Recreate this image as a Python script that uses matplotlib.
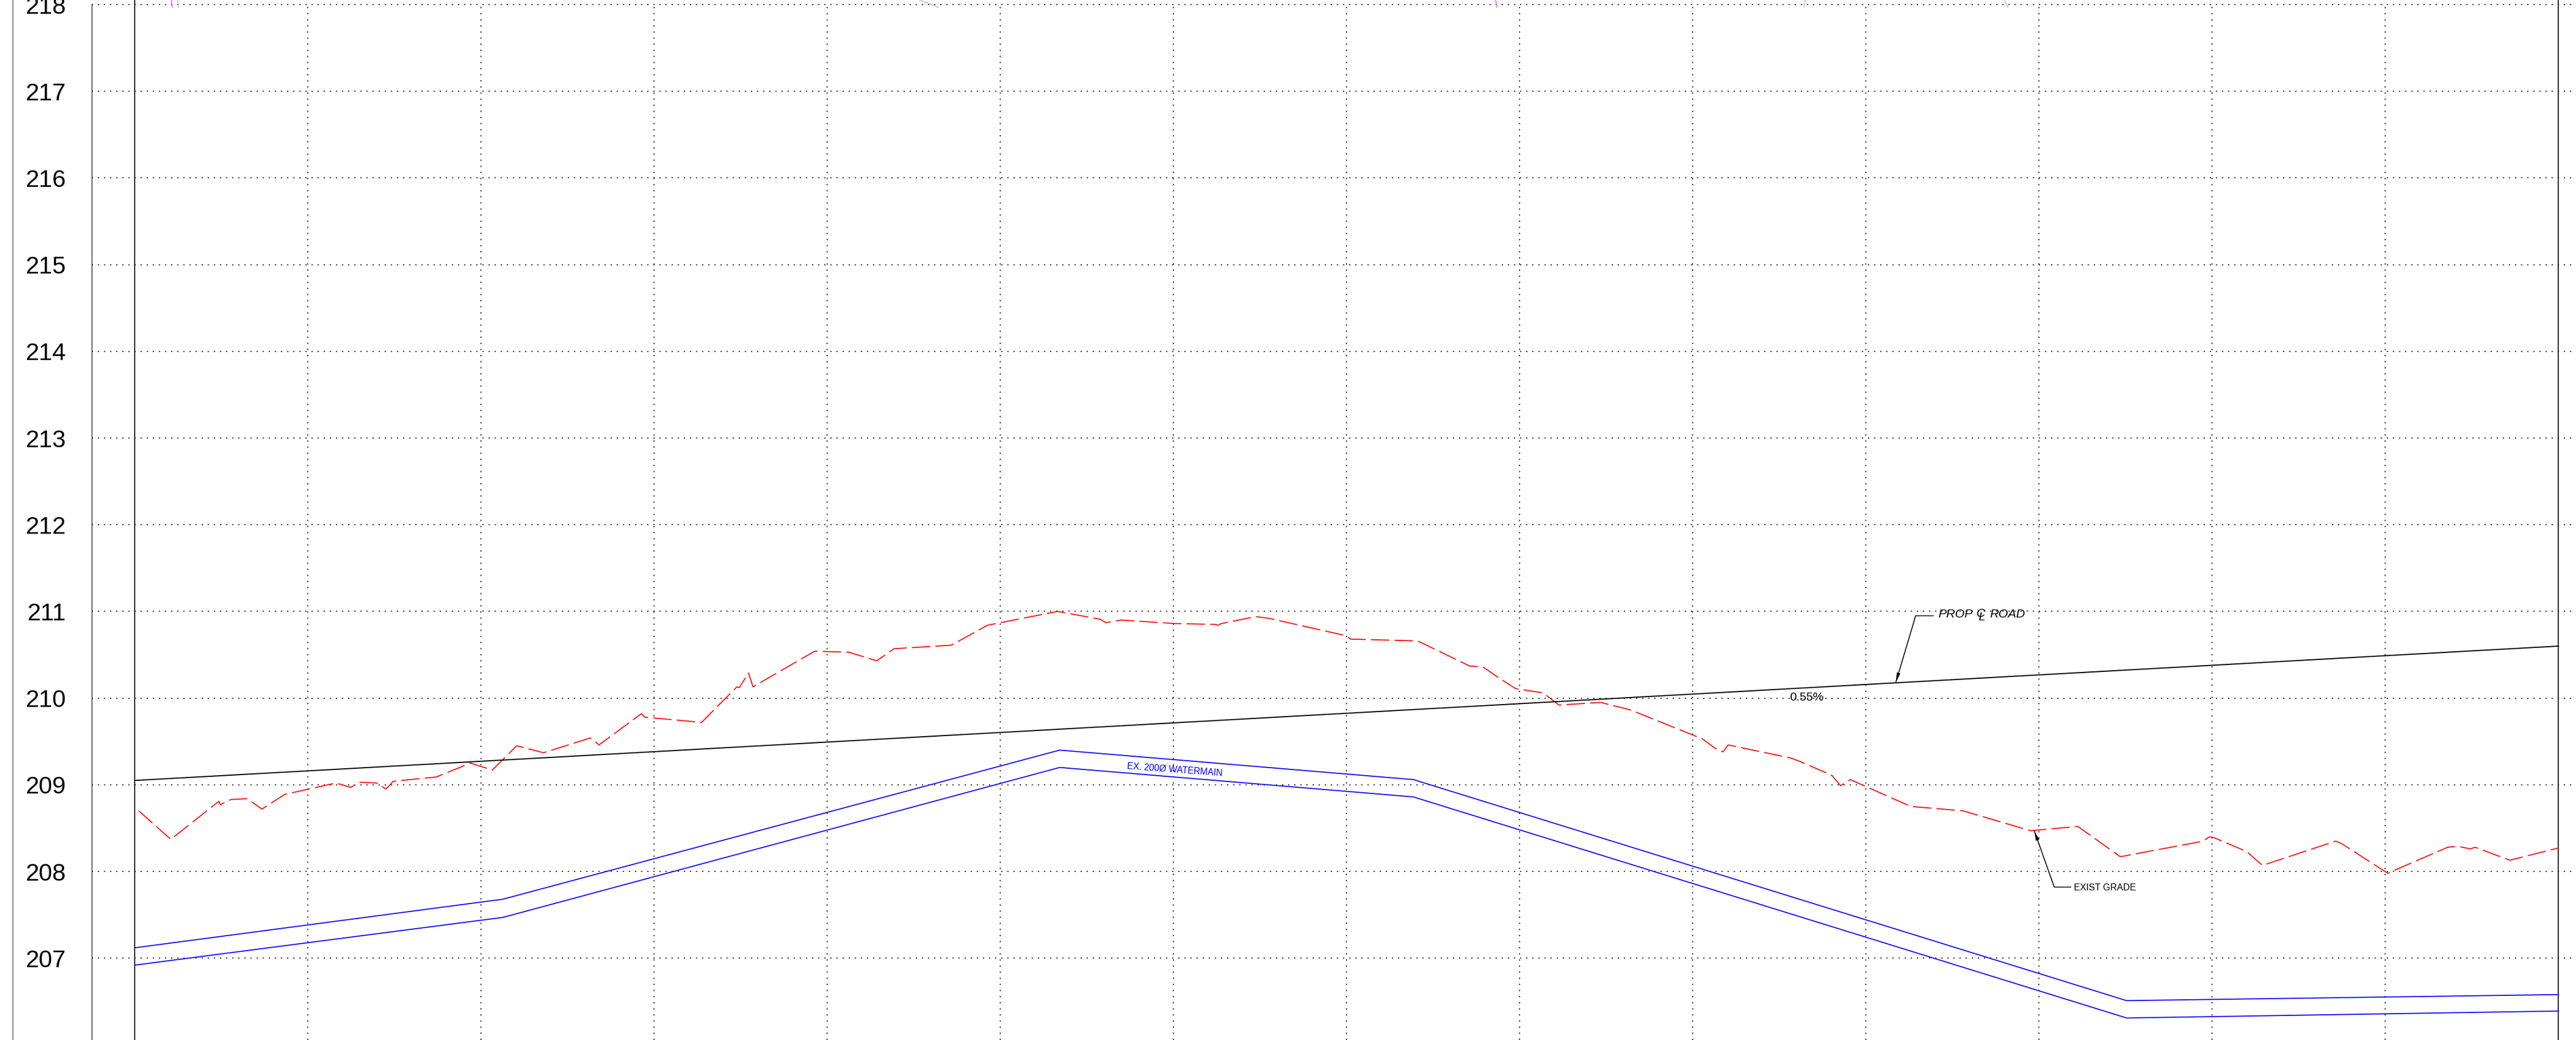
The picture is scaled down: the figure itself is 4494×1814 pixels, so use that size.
import matplotlib
matplotlib.use("Agg")
import matplotlib.pyplot as plt

# profile grid
elevations = [207, 208, 209, 210, 211, 212, 213, 214, 215, 216, 217, 218]
stations = [20, 40, 60, 80, 100, 120, 140, 160, 180, 200, 220, 240, 260]

# existing grade
grade_x = [0.43, 4.14, 9.70, 9.86, 11.09, 12.95, 14.67, 17.32, 23.21, 24.96, 25.86, 27.98, 29.0, 29.83,
           34.8, 38.77, 41.29, 44.1, 47.21, 52.62, 53.61, 58.51, 58.9, 65.46, 69.54, 69.81, 70.89, 71.4,
           78.51, 82.45, 85.7, 87.7, 94.3, 98.48, 106.6, 111.49, 112.19, 113.94, 120.2, 124.8, 125.13,
           125.53, 129.48, 131.03, 139.9, 140.46, 148.15, 148.81, 154.2, 155.73, 157.32, 159.5, 162.68,
           164.52, 169.31, 171.76, 172.88, 181.09, 182.58, 183.48, 184.07, 191.26, 192.35, 196.04, 196.46,
           197.05, 198.18, 205.18, 211.19, 219.01, 224.47, 229.37, 238.95, 239.66, 240.21, 243.98, 245.79,
           254.26, 254.97, 260.27, 267.21, 268.44, 269.83, 270.36, 274.37, 279.95]
grade_y = [208.70, 208.37, 208.81, 208.77, 208.83, 208.84, 208.72, 208.89, 209.02, 208.97, 209.03, 209.02, 208.95, 209.04,
           209.09, 209.25, 209.17, 209.45, 209.37, 209.54, 209.46, 209.82, 209.78, 209.72, 210.13, 210.12, 210.29, 210.13,
           210.54, 210.53, 210.43, 210.57, 210.61, 210.84, 211.00, 210.91, 210.87, 210.90, 210.86, 210.85, 210.84,
           210.86, 210.94, 210.92, 210.72, 210.68, 210.66, 210.63, 210.37, 210.36, 210.25, 210.11, 210.06,
           209.92, 209.95, 209.89, 209.86, 209.53, 209.42, 209.38, 209.46, 209.31, 209.27, 209.11, 209.06,
           208.99, 209.06, 208.75, 208.70, 208.47, 208.52, 208.17, 208.35, 208.40, 208.39, 208.23, 208.07,
           208.35, 208.32, 207.98, 208.28, 208.29, 208.26, 208.28, 208.13, 208.27]

# proposed road centreline
road_x = [0, 280]
road_y = [209.05, 210.60]

# 200 watermain
main_x = [0, 42.5, 106.84, 147.7, 230.1, 280]
main_top = [207.12, 207.68, 209.40, 209.06, 206.51, 206.58]
main_bottom = [206.92, 207.47, 209.20, 208.86, 206.31, 206.39]

# leaders
road_leader_x = [203.43, 205.73, 207.78]
road_leader_y = [210.18, 210.95, 210.95]
grade_leader_x = [219.43, 221.74, 223.65]
grade_leader_y = [208.47, 207.82, 207.82]

# bits of other drawing poking in over the top line
top_bits_x = [(4.2, 4.3), (4.93, 5.04), (90.63, 92.85), (157.2, 157.35), (192.98, 192.85), (215.99, 216.39)]
top_bits_c = ["#ff40ff", "#b8b8b8", "#b8b8b8", "#ff40ff", "#b8b8b8", "#b8b8b8"]

fig = plt.figure(figsize=(44.94, 18.14), dpi=100)
ax = fig.add_axes([0, 0, 1, 1])
ax.set_xlim(-15.596, 282.02)
ax.set_ylim(206.056, 218.053)
for s in ax.spines.values():
    s.set_visible(False)

# y labels sit inside the frame
ax.set_xticks([])
ax.set_yticks(elevations)
ax.set_yticklabels([str(e) for e in elevations])
ax.tick_params(axis="y", length=0, pad=-83, labelsize=30.5, labelfontfamily="Liberation Sans", labelcolor="black")

# dotted grid
dots = (0, (1.5, 5.47))
ax.hlines(elevations, -5, 282.02, colors="black", linewidth=1.1, linestyles=[dots])
ax.vlines(stations, 206.056, 218, colors="black", linewidth=1.1, linestyles=[dots])

# frame lines
ax.plot([-14.14, -14.14], [206.056, 218.053], color="#555555", linewidth=1.0)
ax.plot([-5, -5], [206.056, 218], color="#222222", linewidth=1.0)
ax.plot([0, 0], [206.056, 218.053], color="black", linewidth=1.2)
ax.plot([280, 280], [206.056, 218.053], color="black", linewidth=1.2)

for xs, c in zip(top_bits_x, top_bits_c):
    ax.plot(xs, [218.053, 217.967], color=c, linewidth=1.0)

ax.plot(grade_x, grade_y, color="#ff0000", linewidth=1.3, linestyle=(0, (17.8, 5)))
ax.plot(road_x, road_y, color="black", linewidth=1.4)
ax.plot(main_x, main_top, color="#0000ff", linewidth=1.3)
ax.plot(main_x, main_bottom, color="#0000ff", linewidth=1.3)

# leaders with small arrow heads
ax.plot(road_leader_x, road_leader_y, color="black", linewidth=1.0)
ax.plot(grade_leader_x, grade_leader_y, color="black", linewidth=1.0)
ax.annotate("", xy=(road_leader_x[0], road_leader_y[0]), xytext=(road_leader_x[1], road_leader_y[1]),
            arrowprops=dict(arrowstyle="-|>,head_length=1.0,head_width=0.18", color="black", linewidth=0.8, shrinkA=0, shrinkB=0))
ax.annotate("", xy=(grade_leader_x[0], grade_leader_y[0]), xytext=(grade_leader_x[1], grade_leader_y[1]),
            arrowprops=dict(arrowstyle="-|>,head_length=1.0,head_width=0.18", color="black", linewidth=0.8, shrinkA=0, shrinkB=0))

font = "Liberation Sans"
# centreline sign is a C and an L laid over each other
ax.text(208.35, 210.93, "PROP", fontsize=15.4, style="italic", family=font, va="baseline")
ax.text(212.72, 210.94, "C", fontsize=15.4, style="italic", family=font, va="baseline")
ax.text(212.99, 210.90, "L", fontsize=15.4, style="italic", family=font, va="baseline")
ax.text(214.31, 210.93, "ROAD", fontsize=15.4, style="italic", family=font, va="baseline")
ax.text(224.03, 207.78, "EXIST GRADE", fontsize=11.6, family=font, va="baseline")
ax.text(191.16, 209.97, "0.55%", fontsize=15, family=font, va="baseline")
ax.text(114.6, 209.19, "EX. 200\u00d8 WATERMAIN", fontsize=11.3, family=font, color="#0000ff",
        rotation=-4.3, rotation_mode="anchor", va="baseline")

fig.savefig("out.png", dpi=100)
